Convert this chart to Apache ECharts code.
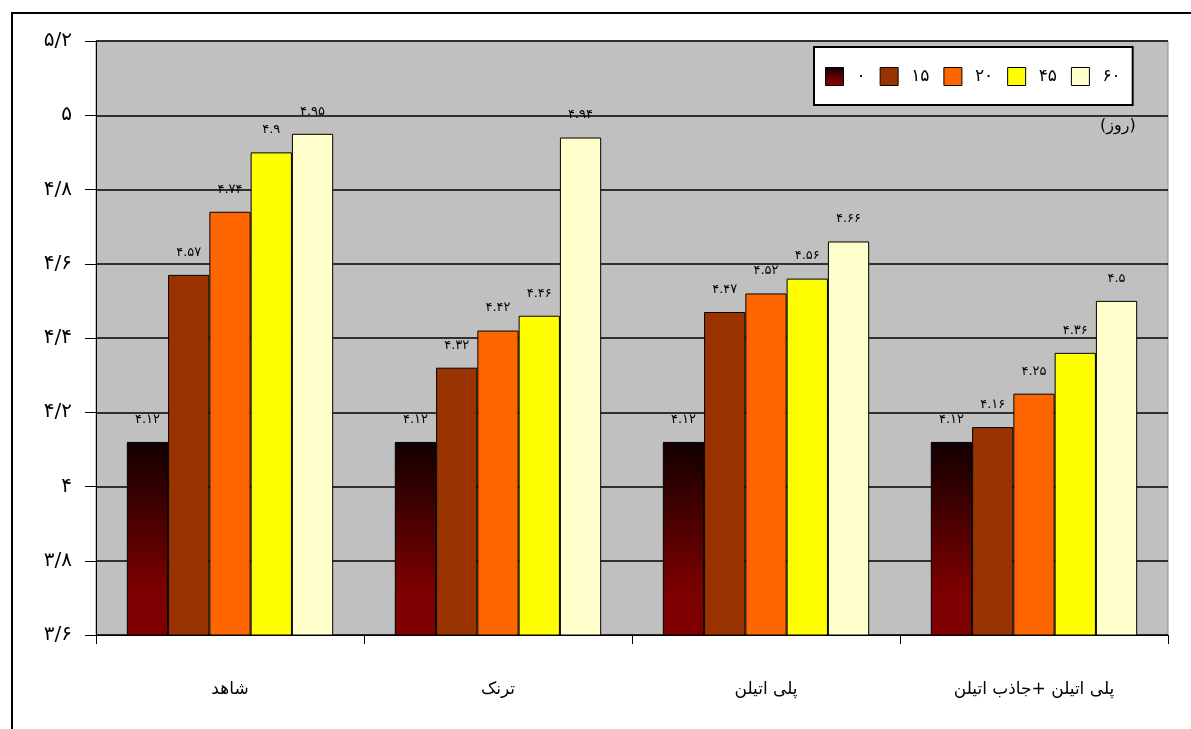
<!DOCTYPE html>
<html>
<head>
<meta charset="utf-8">
<script src="https://cdn.jsdelivr.net/npm/echarts@6/dist/echarts.min.js"></script>
<style>
  html, body { margin: 0; padding: 0; background: #fff; }
  #chart { width: 1191px; height: 729px; }
</style>
</head>
<body>
<div id="chart"></div>
<script>
// treatments (x axis)
const categories = ['شاهد', 'ترنک', 'پلی اتیلن', 'پلی اتیلن +جاذب اتیلن'];
// storage days (legend)
const seriesNames = ['۰', '۱۵', '۲۰', '۴۵', '۶۰'];
const day0 = [4.12, 4.12, 4.12, 4.12];
const day15 = [4.57, 4.32, 4.47, 4.16];
const day20 = [4.74, 4.42, 4.52, 4.25];
const day45 = [4.9, 4.46, 4.56, 4.36];
const day60 = [4.95, 4.94, 4.66, 4.5];
const yTickLabels = ['۳/۶', '۳/۸', '۴', '۴/۲', '۴/۴', '۴/۶', '۴/۸', '۵', '۵/۲'];

const faDigits = '۰۱۲۳۴۵۶۷۸۹';
function toFa(v) {
  return String(v).replace(/\d/g, d => faDigits[d]);
}

const font = 'DejaVu Sans';
const colors = [
  new echarts.graphic.LinearGradient(0, 0, 0, 1, [
    { offset: 0, color: '#120000' },
    { offset: 0.75, color: '#7a0000' },
    { offset: 1, color: '#800000' }
  ]),
  '#993300',
  '#ff6600',
  '#ffff00',
  '#ffffcc'
];
const allData = [day0, day15, day20, day45, day60];

const chart = echarts.init(document.getElementById('chart'));

let option = {
  backgroundColor: '#fff',
  animation: false,
  textStyle: { fontFamily: font },
  grid: {
    left: 96,
    right: 23,
    top: 41,
    bottom: 94,
    show: true,
    backgroundColor: '#c0c0c0',
    borderColor: '#8c8c8c',
    borderWidth: 1
  },
  legend: {
    left: 814,
    top: 47,
    padding: [20, 12, 19, 11],
    icon: 'rect',
    itemWidth: 18,
    itemHeight: 18,
    itemGap: 14,
    backgroundColor: '#fff',
    borderColor: '#000',
    borderWidth: 2,
    textStyle: { fontSize: 17, color: '#000', fontFamily: font, padding: [0, 0, 0, 8] },
    itemStyle: { borderColor: '#000', borderWidth: 1 },
    data: seriesNames
  },
  xAxis: {
    type: 'category',
    data: categories,
    axisLine: { lineStyle: { color: '#000', width: 1 } },
    axisTick: { show: true, length: 9, lineStyle: { color: '#000' } },
    axisLabel: { color: '#000', fontSize: 17, margin: 46 },
    splitLine: { show: false }
  },
  yAxis: {
    type: 'value',
    min: 3.6,
    max: 5.2,
    interval: 0.2,
    axisLine: { show: true, lineStyle: { color: '#000', width: 1 } },
    axisTick: { show: true, length: 11, lineStyle: { color: '#000' } },
    axisLabel: {
      color: '#000',
      fontSize: 20,
      margin: 24,
      formatter: function (v) {
        return yTickLabels[Math.round((v - 3.6) / 0.2)];
      }
    },
    splitLine: { show: true, lineStyle: { color: '#000', width: 1.5 } }
  },
  graphic: [
    {
      type: 'rect',
      shape: { x: 12, y: 13, width: 1250, height: 800 },
      style: { fill: 'none', stroke: '#000', lineWidth: 2 },
      silent: true
    },
    {
      type: 'text',
      left: 1100,
      top: 118,
      style: { text: '(روز)', font: '16px ' + font, fill: '#000' }
    }
  ],
  series: seriesNames.map((name, i) => ({
    name: name,
    type: 'bar',
    data: allData[i],
    barGap: '0%',
    barCategoryGap: '23%',
    itemStyle: { color: colors[i], borderColor: '#000', borderWidth: 1 },
    label: {
      show: true,
      position: 'top',
      distance: 16,
      color: '#000',
      fontSize: 13,
      fontFamily: font,
      formatter: p => toFa(p.value)
    }
  }))
};

chart.setOption(option);
window.addEventListener('resize', () => chart.resize());
</script>
</body>
</html>
